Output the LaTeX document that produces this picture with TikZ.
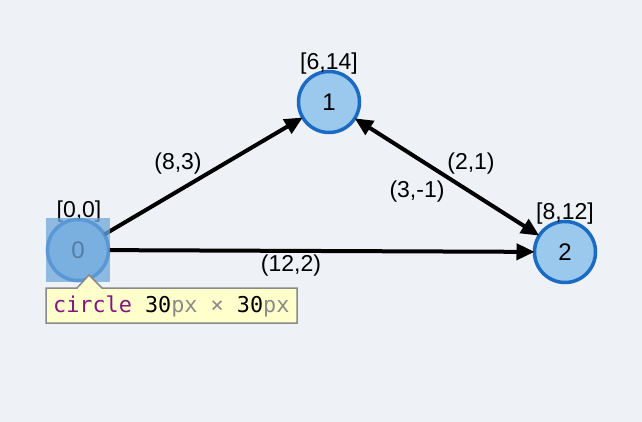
\documentclass[tikz,border=0pt]{standalone}
\usepackage{fontspec}
\setmainfont{Liberation Sans}
\newfontfamily\codefont{DejaVu Sans Mono}
\usetikzlibrary{arrows.meta}
\definecolor{bgcol}{HTML}{EEF1F5}
\definecolor{nodefill}{HTML}{9BC9EE}
\definecolor{nodeline}{HTML}{1B6AC4}
\definecolor{hilite}{HTML}{6FA8DC}
\definecolor{tipfill}{HTML}{FFFFCC}
\definecolor{tipline}{HTML}{8A8A8A}
\definecolor{kwcol}{HTML}{881280}
\definecolor{unitcol}{HTML}{8A8A8A}
\tikzset{
  vertex/.style={circle, draw=nodeline, fill=nodefill, line width=3.5pt,
    minimum size=61pt, inner sep=0pt, outer sep=0pt,
    font=\fontsize{24}{26}\selectfont},
  tag/.style={font=\fontsize{23}{25}\selectfont, inner sep=0pt},
  edge/.style={line width=4pt, -{Triangle[length=18pt,width=16pt]}},
  biedge/.style={line width=4pt, {Triangle[length=18pt,width=16pt]}-{Triangle[length=18pt,width=16pt]}},
}
\begin{document}
\begin{tikzpicture}[x=1pt,y=-1pt]
  \fill[bgcol] (0,0) rectangle (642,422);
  \useasboundingbox (0,0) rectangle (642,422);

  % vertices
  \node[vertex] (n0) at (78,250) {0};
  \node[vertex] (n1) at (329,102) {1};
  \node[vertex] (n2) at (565,252) {2};

  % coordinates above the vertices
  \node[tag] (c0) at (79,212) {[0,0]};
  \node[tag] (c1) at (329,64) {[6,14]};
  \node[tag] (c2) at (565,214) {[8,12]};

  % edges
  \draw[edge] (n0) -- (n1);
  \draw[edge] (n0) -- (n2);
  \draw[biedge] (n1) -- (n2);

  % edge weights
  \node[tag] (w01) at (178,164) {(8,3)};
  \node[tag] (w02) at (291,266) {(12,2)};
  \node[tag] (w12) at (471,164) {(2,1)};
  \node[tag] (w21) at (417,192) {(3,-1)};

  % selection highlight over vertex 0
  \fill[hilite, opacity=0.75] (46,218) rectangle (110,282);

  % size tooltip
  \draw[tipline, fill=tipfill, line width=1.5pt]
    (46,288) -- (77,288) -- (89,275) -- (102,288) -- (297,288)
    -- (297,323) -- (46,323) -- cycle;
  \node[anchor=west, inner sep=0pt, font=\codefont\fontsize{21.8}{24}\selectfont] (tip) at (53,306)
    {\textcolor{kwcol}{circle} 30\textcolor{unitcol}{px} \textcolor{unitcol}{×} 30\textcolor{unitcol}{px}};
\end{tikzpicture}
\end{document}
